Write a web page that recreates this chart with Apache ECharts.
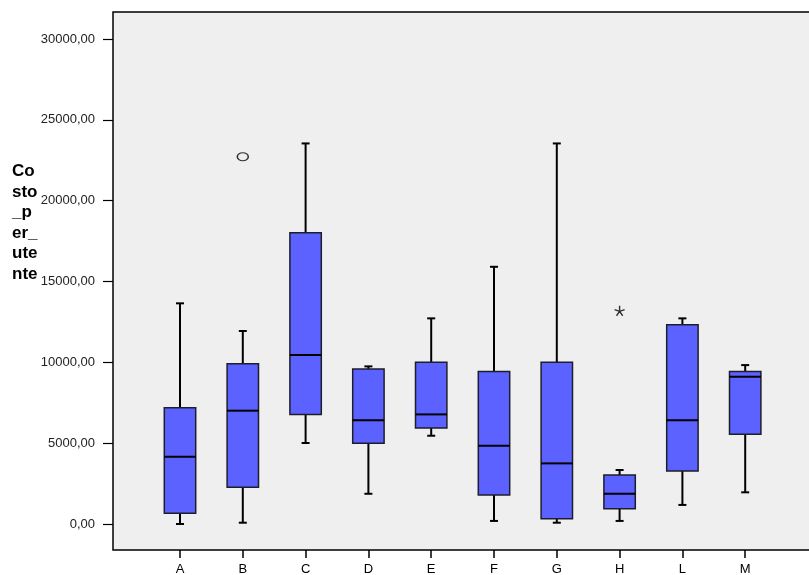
<!DOCTYPE html>
<html>
<head>
<meta charset="utf-8">
<script src="https://cdn.jsdelivr.net/npm/echarts@6/dist/echarts.min.js"></script>
<style>
  html, body { margin: 0; padding: 0; background: #ffffff; }
  #chart { width: 809px; height: 575px; }
</style>
</head>
<body>
<div id="chart"></div>
<script>
// Categories and five-number summaries (min, Q1, median, Q3, max)
const categories = ['A', 'B', 'C', 'D', 'E', 'F', 'G', 'H', 'L', 'M'];
const whiskerLow  = [0,     80,    5010,  1870, 5460,  190,   80,    190,  1180,  1960];
const quartile1   = [660,   2270,  6780,  4990, 5940,  1790,  330,   950,  3280,  5550];
const medians     = [4160,  7010,  10450, 6410, 6780,  4840,  3750,  1870, 6410,  9110];
const quartile3   = [7190,  9910,  18020, 9590, 10000, 9440,  10000, 3030, 12330, 9440];
const whiskerHigh = [13650, 11940, 23540, 9750, 12720, 15910, 23540, 3340, 12720, 9830];

// Outliers (circle) and extreme values (star)
const outliers = [['B', 22720]];
const extremes = [['H', 13190]];

// Y axis tick values
const yTicks = [0, 5000, 10000, 15000, 20000, 25000, 30000];
const axisTitle = ['Co', 'sto', '_p', 'er_', 'ute', 'nte'];

const boxData = categories.map((c, i) => [i, whiskerLow[i], quartile1[i], medians[i], quartile3[i], whiskerHigh[i]]);

const Y_MIN = -1608, Y_MAX = 31670;
const FONT = '"Liberation Sans", Arial, sans-serif';
const STAR = 'path://M0,0L0,-10M0,0L9.51,-3.09M0,0L5.88,8.09M0,0L-5.88,8.09M0,0L-9.51,-3.09';

function fmt(v) { return v.toFixed(2).replace('.', ','); }

function renderBox(params, api) {
  const idx = api.value(0);
  const pMin = api.coord([idx, api.value(1)]);
  const pQ1 = api.coord([idx, api.value(2)]);
  const pMed = api.coord([idx, api.value(3)]);
  const pQ3 = api.coord([idx, api.value(4)]);
  const pMax = api.coord([idx, api.value(5)]);
  const band = api.size([1, 0])[0];
  const half = band * 0.25;
  const cap = 4;
  const cx = pMed[0];
  const lineStyle = { stroke: '#000', lineWidth: 2 };
  return {
    type: 'group',
    children: [
      { type: 'line', shape: { x1: cx, y1: pMax[1], x2: cx, y2: pQ3[1] }, style: lineStyle },
      { type: 'line', shape: { x1: cx, y1: pQ1[1], x2: cx, y2: pMin[1] }, style: lineStyle },
      { type: 'line', shape: { x1: cx - cap, y1: pMax[1], x2: cx + cap, y2: pMax[1] }, style: lineStyle },
      { type: 'line', shape: { x1: cx - cap, y1: pMin[1], x2: cx + cap, y2: pMin[1] }, style: lineStyle },
      { type: 'rect', shape: { x: cx - half, y: pQ3[1], width: half * 2, height: pQ1[1] - pQ3[1] },
        style: { fill: '#5b62ff', stroke: '#1e1e2a', lineWidth: 1.5 } },
      { type: 'line', shape: { x1: cx - half, y1: pMed[1], x2: cx + half, y2: pMed[1] }, style: lineStyle }
    ]
  };
}

const chart = echarts.init(document.getElementById('chart'), null, { renderer: 'canvas' });

chart.setOption({
  animation: false,
  backgroundColor: '#ffffff',
  grid: [
    { left: 113, top: 12, width: 700, height: 538, show: true, backgroundColor: '#efefef',
      borderColor: '#000', borderWidth: 1.5, outerBoundsMode: 'none', containLabel: false },
    { left: 148.6, top: 12, width: 628, height: 538, outerBoundsMode: 'none', containLabel: false }
  ],
  xAxis: [
    { type: 'value', gridIndex: 0, show: false, min: 0, max: 1 },
    { type: 'category', gridIndex: 1, data: categories, boundaryGap: true, position: 'bottom',
      axisLine: { show: false, onZero: false },
      axisTick: { show: true, alignWithLabel: true, length: 8, lineStyle: { color: '#000', width: 1.5 } },
      axisLabel: { color: '#000', fontFamily: FONT, fontSize: 13, margin: 13 },
      splitLine: { show: false } }
  ],
  yAxis: [
    { type: 'value', gridIndex: 0, min: Y_MIN, max: Y_MAX,
      axisLine: { show: false, onZero: false },
      axisTick: { show: true, length: 10, customValues: yTicks, lineStyle: { color: '#000', width: 1.2 } },
      axisLabel: { color: '#222', fontFamily: FONT, fontSize: 13, margin: 18, customValues: yTicks,
        formatter: v => fmt(v) },
      splitLine: { show: false } },
    { type: 'value', gridIndex: 1, min: Y_MIN, max: Y_MAX, show: false, splitLine: { show: false } }
  ],
  graphic: axisTitle.map((t, i) => ({
    type: 'text', left: 12, top: 163 + i * 20.5,
    style: { text: t, font: 'bold 17px ' + FONT, fill: '#000' }
  })),
  series: [
    { type: 'custom', xAxisIndex: 1, yAxisIndex: 1, data: boxData,
      encode: { x: 0, y: [1, 2, 3, 4, 5] }, renderItem: renderBox, z: 3 },
    { type: 'scatter', xAxisIndex: 1, yAxisIndex: 1, data: outliers,
      symbol: 'circle', symbolSize: [11, 8],
      itemStyle: { color: 'rgba(0,0,0,0)', borderColor: '#000', borderWidth: 1.3 }, z: 4 },
    { type: 'scatter', xAxisIndex: 1, yAxisIndex: 1, data: extremes,
      symbol: STAR, symbolSize: 10,
      itemStyle: { color: 'rgba(0,0,0,0)', borderColor: '#000', borderWidth: 1.4 }, z: 4 }
  ]
});
</script>
</body>
</html>
